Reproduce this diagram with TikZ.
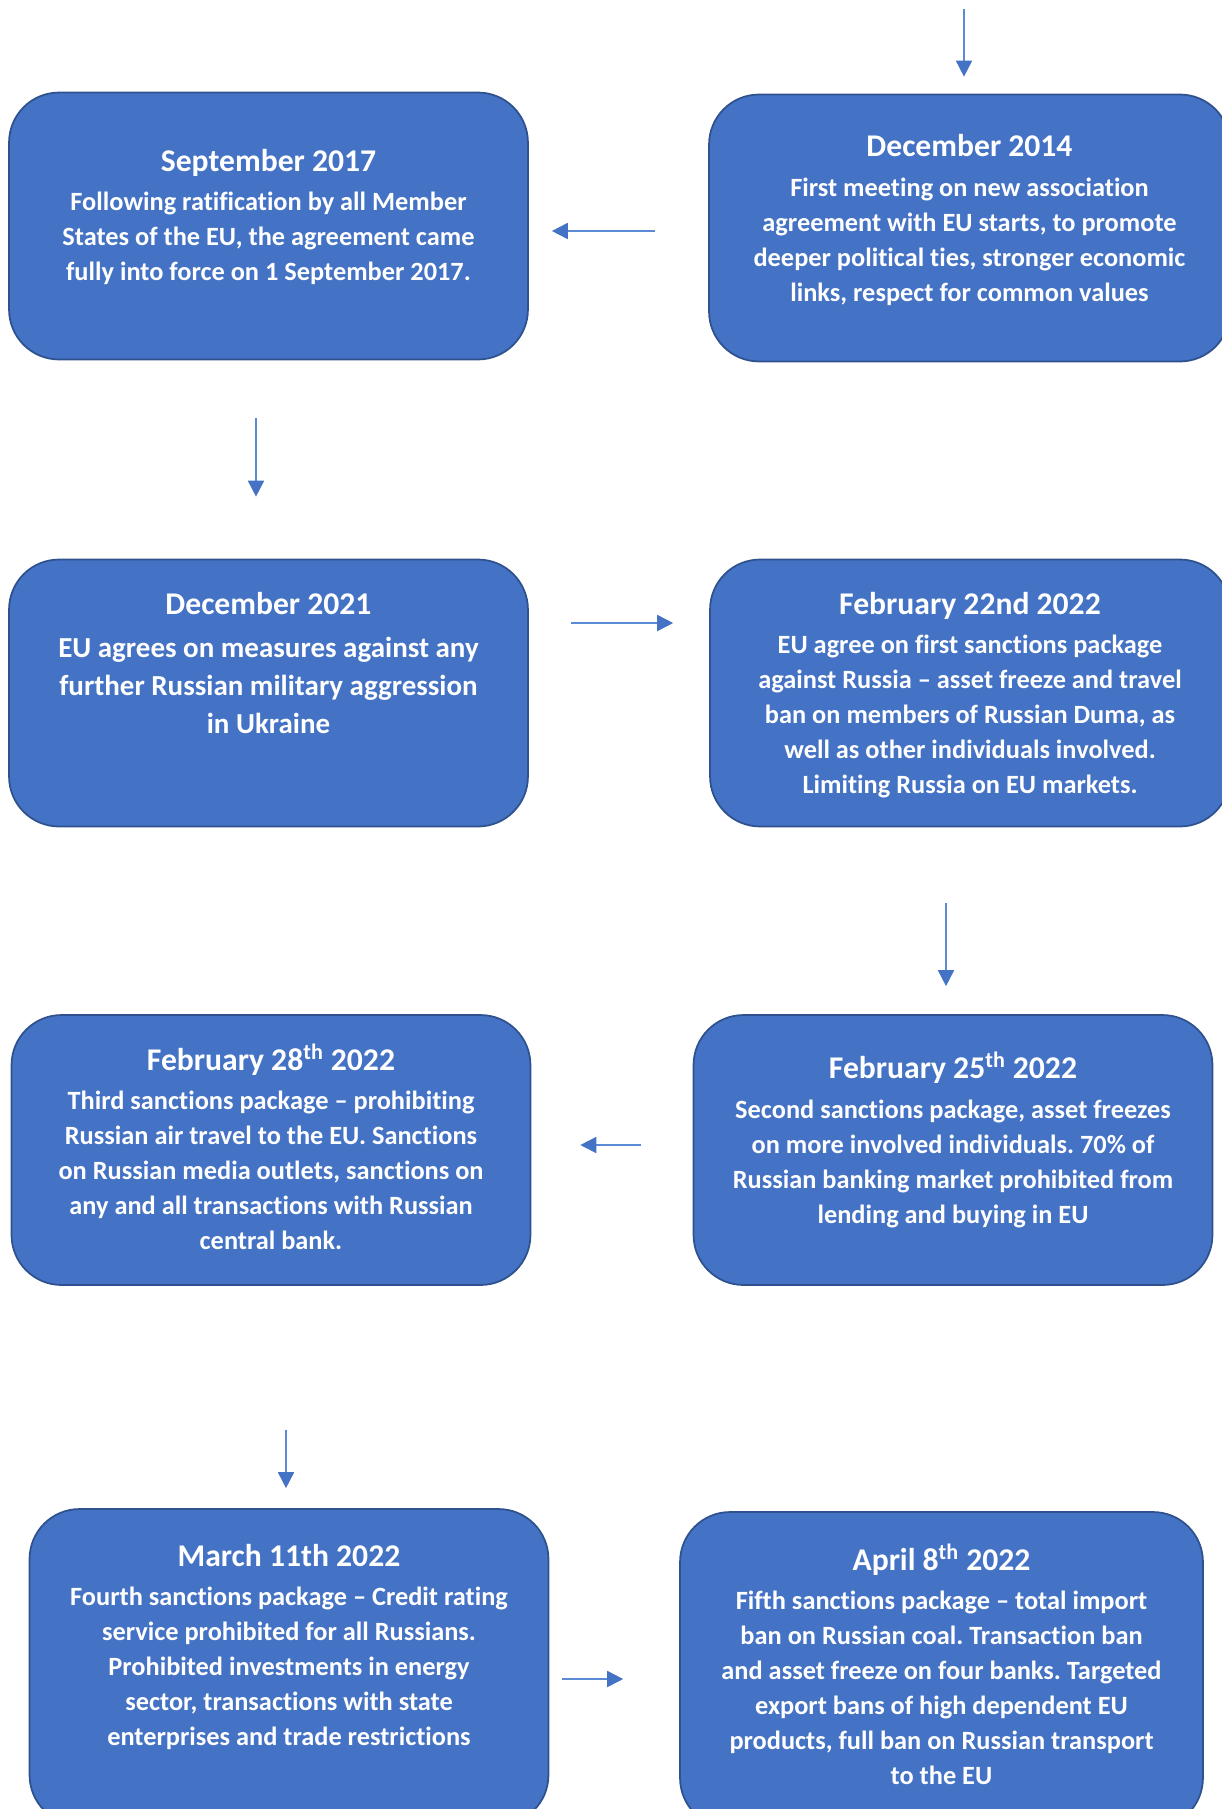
\documentclass[tikz,border=0pt]{standalone}
\usepackage{fontspec}
\setmainfont{Carlito}[Ligatures=NoCommon]
\frenchspacing
\usepackage{tikz}
\usepackage{xcolor}
\usetikzlibrary{arrows.meta}
\definecolor{evfill}{HTML}{4472C4}
\definecolor{evline}{HTML}{2F528F}
\definecolor{flowline}{HTML}{5B8BD5}
\tikzset{event/.style={draw=evline,fill=evfill,rectangle,rounded corners=1cm,line width=1pt,minimum width=10.38cm,minimum height=5.34cm}}
\tikzset{evtext/.style={text=white,align=center,font=\bfseries\fontsize{15}{19.9}\selectfont}}
\tikzset{flow/.style={draw=flowline,line width=1pt,-{Triangle[length=0.32cm,width=0.32cm,color=evfill,fill=evfill]}}}
\newcommand{\evtitle}[1]{{\fontsize{18}{22}\selectfont #1}\\[2.5pt]}

\begin{document}
\begin{tikzpicture}[x=0.02cm,y=-0.02cm]
    \useasboundingbox (0,0) rectangle (1222,1809);

    \node[event] (sep17) at (268.5,226) {};
    \node[event,minimum width=10.42cm] (dec14) at (969.5,228) {};
    \node[event] (dec21) at (268.5,693) {};
    \node[event,minimum width=10.4cm] (feb22) at (970,693) {};
    \node[event,minimum height=5.4cm] (feb28) at (271,1150) {};
    \node[event,minimum height=5.4cm] (feb25) at (953,1150) {};
    \node[event,minimum height=6.32cm] (mar11) at (289,1667) {};
    \node[event,minimum width=10.46cm,minimum height=6.32cm] (apr08) at (941.5,1670) {};

    \node[evtext] (sep17txt) at (268.5,217) {\evtitle{September 2017}Following ratification by all Member\\States of the EU, the agreement came\\fully into force on 1 September 2017.};
    \node[evtext] (dec14txt) at (969.5,220) {\evtitle{December 2014}First meeting on new association\\agreement with EU starts, to promote\\deeper political ties, stronger economic\\links, respect for common values};
    \node[evtext,font=\bfseries\fontsize{16.5}{21.6}\selectfont] (dec21txt) at (268.5,663) {\evtitle{December 2021}EU agrees on measures against any\\further Russian military aggression\\in Ukraine};
    \node[evtext] (feb22txt) at (970,695) {\evtitle{February 22nd 2022}EU agree on first sanctions package\\against Russia -- asset freeze and travel\\ban on members of Russian Duma, as\\well as other individuals involved.\\Limiting Russia on EU markets.};
    \node[evtext] (feb28txt) at (271,1147) {\evtitle{February 28\textsuperscript{th} 2022}Third sanctions package -- prohibiting\\Russian air travel to the EU. Sanctions\\on Russian media outlets, sanctions on\\any and all transactions with Russian\\central bank.};
    \node[evtext] (feb25txt) at (953,1140) {\evtitle{February 25\textsuperscript{th} 2022}Second sanctions package, asset freezes\\on more involved individuals. 70\% of\\Russian banking market prohibited from\\lending and buying in EU};
    \node[evtext] (mar11txt) at (289,1647) {\evtitle{March 11th 2022}Fourth sanctions package -- Credit rating\\service prohibited for all Russians.\\Prohibited investments in energy\\sector, transactions with state\\enterprises and trade restrictions};
    \node[evtext] (apr08txt) at (941.5,1664) {\evtitle{April 8\textsuperscript{th} 2022}Fifth sanctions package -- total import\\ban on Russian coal. Transaction ban\\and asset freeze on four banks. Targeted\\export bans of high dependent EU\\products, full ban on Russian transport\\to the EU};

    \coordinate (start) at (964,9);

    \draw[flow,shorten >=0.34cm] (start) -- (start |- dec14.north);
    \draw[flow,shorten <=1.06cm,shorten >=0.46cm] (dec14.west |- 0,231) -- (sep17.east |- 0,231);
    \draw[flow,shorten <=1.16cm,shorten >=1.24cm] (sep17.south -| 256,0) -- (dec21.north -| 256,0);
    \draw[flow,shorten <=0.84cm,shorten >=0.72cm] (dec21.east |- 0,623) -- (feb22.west |- 0,623);
    \draw[flow,shorten <=1.52cm,shorten >=0.56cm] (feb22.south -| 946,0) -- (feb25.north -| 946,0);
    \draw[flow,shorten <=1.04cm,shorten >=0.98cm] (feb25.west |- 0,1145) -- (feb28.east |- 0,1145);
    \draw[flow,shorten <=2.88cm,shorten >=0.4cm] (feb28.south -| 286,0) -- (mar11.north -| 286,0);
    \draw[flow,shorten <=0.26cm,shorten >=1.12cm] (mar11.east |- 0,1679) -- (apr08.west |- 0,1679);
\end{tikzpicture}
\end{document}
